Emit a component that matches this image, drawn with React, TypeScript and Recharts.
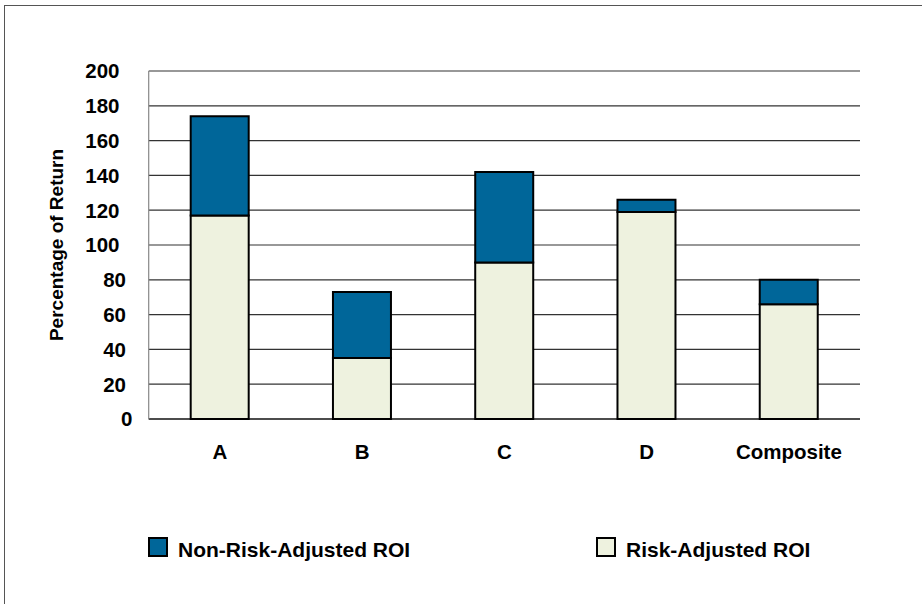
import { BarChart, Bar, XAxis, YAxis, CartesianGrid } from "recharts";

// Stacked ROI bars: risk-adjusted on the bottom, the non-risk-adjusted remainder on top.
const categories = ["A", "B", "C", "D", "Composite"];
const riskAdjusted = [117, 35, 90, 119, 66];
const nonRiskAdjusted = [57, 38, 52, 7, 14];
const yTicks = [0, 20, 40, 60, 80, 100, 120, 140, 160, 180, 200];

const BLUE = "#006699";
const CREAM = "#EEF2DF";
const FONT = "'Liberation Sans', Arial, sans-serif";

const legendItems = [
  { label: "Non-Risk-Adjusted ROI", color: BLUE, left: 148 },
  { label: "Risk-Adjusted ROI", color: CREAM, left: 596 },
];

const data = categories.map((c, i) => ({
  category: c,
  risk: riskAdjusted[i],
  nonRisk: nonRiskAdjusted[i],
}));

// The source chart indents shorter labels a little (right edge moves half a digit per missing digit).
function YTick(props: any) {
  const { y, payload } = props;
  const s = String(payload.value);
  const right = 119.5 + 6.5 * (3 - s.length);
  return (
    <text x={right} y={y} dy="0.36em" textAnchor="end" fill="#000" fontSize={20.5} fontWeight="bold" fontFamily={FONT}>
      {s}
    </text>
  );
}

function LegendBox() {
  return (
    <>
      {legendItems.map((it) => (
        <div key={it.label}>
          <div
            style={{
              position: "absolute",
              left: it.left,
              top: 537,
              width: 16,
              height: 16,
              background: it.color,
              border: "2px solid #000",
            }}
          />
          <div
            style={{
              position: "absolute",
              left: it.left + 30,
              top: 538,
              lineHeight: "24px",
              fontFamily: FONT,
              fontWeight: "bold",
              fontSize: 21,
              color: "#000",
              whiteSpace: "nowrap",
            }}
          >
            {it.label}
          </div>
        </div>
      ))}
    </>
  );
}

export default function App() {
  return (
    <div style={{ position: "absolute", left: 0, top: 0, width: 922, height: 604, background: "#fff", overflow: "hidden" }}>
      <div
        style={{
          position: "absolute",
          left: 4,
          top: 5,
          width: 930,
          height: 610,
          borderTop: "1px solid #555",
          borderLeft: "1px solid #555",
        }}
      />
      <BarChart
        width={922}
        height={604}
        data={data}
        margin={{ top: 71, right: 62, bottom: 145, left: 38.7 }}
        barSize={58}
        style={{ position: "absolute", left: 0, top: 0 }}
      >
        <CartesianGrid stroke="#333" strokeWidth={1.2} vertical={false} />
        <XAxis
          dataKey="category"
          tickLine={false}
          axisLine={{ stroke: "#000", strokeWidth: 1.2 }}
          tickSize={0}
          tickMargin={25}
          height={40}
          tick={{ fill: "#000", fontSize: 20.5, fontWeight: "bold", fontFamily: FONT }}
        />
        <YAxis
          domain={[0, 200]}
          ticks={yTicks}
          interval={0}
          width={110}
          tickLine={false}
          tickSize={0}
          axisLine={{ stroke: "#888", strokeWidth: 1.2 }}
          tick={<YTick />}
          label={{
            value: "Percentage of Return",
            angle: -90,
            position: "insideLeft",
            offset: 18,
            style: { textAnchor: "middle", fill: "#000", fontSize: 19, fontWeight: "bold", fontFamily: FONT },
          }}
        />
        <Bar dataKey="risk" stackId="roi" fill={CREAM} stroke="#000" strokeWidth={2} isAnimationActive={false} />
        <Bar dataKey="nonRisk" stackId="roi" fill={BLUE} stroke="#000" strokeWidth={2} isAnimationActive={false} />
      </BarChart>
      <LegendBox />
    </div>
  );
}
